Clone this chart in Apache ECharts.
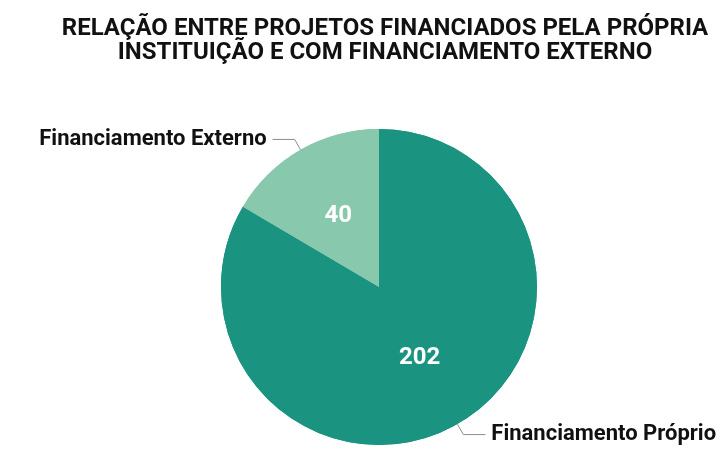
<!DOCTYPE html>
<html>
<head>
<meta charset="utf-8">
<script src="https://cdn.jsdelivr.net/npm/echarts@6/dist/echarts.min.js"></script>
<style>
  html, body { margin: 0; padding: 0; background: #ffffff; }
  #chart { width: 722px; height: 450px; }
</style>
</head>
<body>
<div id="chart"></div>
<script>
// Projects by funding source
const categories = ['Financiamento Próprio', 'Financiamento Externo'];
const values = [202, 40];
const colors = ['#1a9480', '#88c9ad'];

const titleLines = [
  'RELAÇÃO ENTRE PROJETOS FINANCIADOS PELA PRÓPRIA',
  'INSTITUIÇÃO E COM FINANCIAMENTO EXTERNO'
];

const FONT = 'Roboto';

const chart = echarts.init(document.getElementById('chart'), null, { renderer: 'canvas' });

const pieData = categories.map((name, i) => ({
  name: name,
  value: values[i],
  itemStyle: { color: colors[i] }
}));

chart.setOption({
  backgroundColor: '#ffffff',
  animation: false,
  title: {
    text: titleLines.join('\n'),
    left: 380,
    textAlign: 'center',
    top: 12,
    textStyle: {
      fontFamily: FONT,
      fontWeight: 'bold',
      fontSize: 24,
      lineHeight: 24,
      color: '#111111'
    }
  },
  series: [
    {
      type: 'pie',
      center: [379, 287],
      radius: [0, 158],
      startAngle: 90,
      clockwise: true,
      avoidLabelOverlap: false,
      data: pieData,
      itemStyle: { borderWidth: 0 },
      label: {
        show: true,
        position: 'outside',
        formatter: '{b}',
        fontFamily: FONT,
        fontWeight: 'bold',
        fontSize: 22,
        color: '#111111',
        distanceToLabelLine: 6
      },
      labelLine: {
        show: true,
        length: 12,
        length2: 22,
        lineStyle: { color: '#8c8c8c', width: 1 }
      }
    },
    {
      // value labels drawn inside each slice
      type: 'pie',
      center: [379, 287],
      radius: [0, 158],
      startAngle: 90,
      clockwise: true,
      silent: true,
      data: pieData,
      itemStyle: { borderWidth: 0 },
      label: {
        show: true,
        position: 'inner',
        formatter: '{c}',
        fontFamily: FONT,
        fontWeight: 'bold',
        fontSize: 24,
        color: '#ffffff'
      },
      labelLine: { show: false }
    }
  ]
});
</script>
</body>
</html>
